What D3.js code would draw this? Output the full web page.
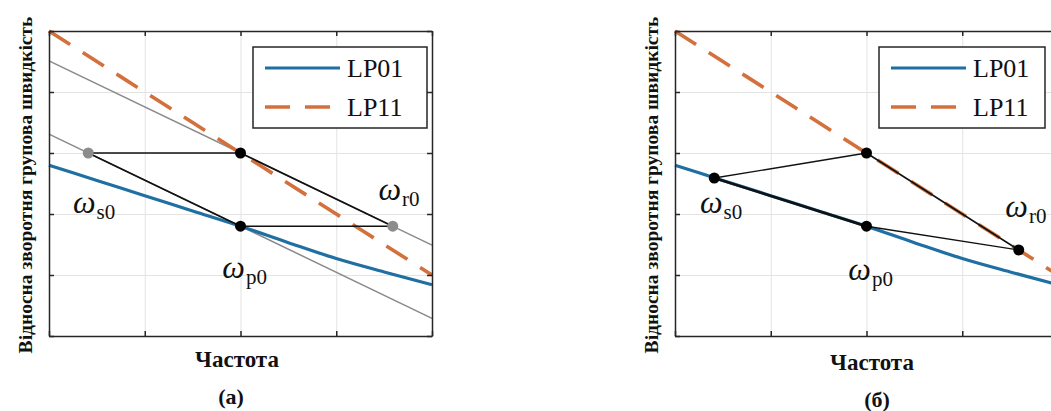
<!DOCTYPE html>
<html><head><meta charset="utf-8">
<script src="https://cdn.jsdelivr.net/npm/d3@7"></script>
<style>body{margin:0;background:#fff} text{font-family:"Liberation Serif","Times New Roman",serif}</style>
</head><body>
<svg width="1051" height="411"></svg>
<script>
// curves shared by both panels
var freq = [0, 0.5, 1, 1.5, 2, 2.5, 3, 3.5, 4];
var lp01 = [2.80, 2.55, 2.30, 2.05, 1.80, 1.53, 1.27, 1.05, 0.84];
var lp11 = [5.00, 4.50, 4.00, 3.50, 3.00, 2.50, 2.00, 1.50, 1.00];
var seriesNames = ["LP01", "LP11"];
var xTicks = [0, 1, 2, 3, 4];
var yTicks = [0, 1, 2, 3, 4, 5];

// panel (a): points s0, top, p0, r0
var ptsA = [{x: 0.41, y: 3.00, c: "#8c8c8c"}, {x: 2, y: 3.00, c: "#000"},
            {x: 2, y: 1.80, c: "#000"}, {x: 3.59, y: 1.80, c: "#8c8c8c"}];
var segsA = [[0, 1, 1.6], [0, 2, 1.6], [2, 3, 1.6], [1, 3, 1.6]];
var guidesA = [[[0, 3.31], [4, 0.29]], [[0, 4.51], [4, 1.49]]];
// panel (б)
var ptsB = [{x: 0.41, y: 2.59, c: "#000"}, {x: 2, y: 3.00, c: "#000"},
            {x: 2, y: 1.80, c: "#000"}, {x: 3.59, y: 1.41, c: "#000"}];
var segsB = [[0, 1, 1.4], [0, 2, 2.6], [2, 3, 1.4], [1, 3, 1.6]];
var guidesB = [];

var subNames = ["s0", "p0", "r0"];
var labelsA = [[0.25, 2.02], [1.81, 0.95], [3.44, 2.23]];
var labelsB = [[0.26, 2.02], [1.81, 0.92], [3.45, 1.95]];

var yTitle = "Відносна зворотня групова швидкість";
var xTitle = "Частота";

var svg = d3.select("svg");
var W = 383, H = 305, TOP = 31;
var blue = "#1f6fa3", orange = "#d3703c";

function panel(left, pts, segs, guides, labels, tag, legW, xt, tagX, yt) {
    var x = d3.scaleLinear().domain([0, 4]).range([0, W]);
    var y = d3.scaleLinear().domain([0, 5]).range([H, 0]);
    var g = svg.append("g").attr("transform", "translate(" + left + "," + TOP + ")");

    // grid
    g.append("g").attr("transform", "translate(0," + H + ")")
     .call(d3.axisBottom(x).tickValues(xTicks).tickSize(-H).tickFormat(""))
     .call(s => s.select(".domain").remove())
     .selectAll("line").attr("stroke", "#e3e3e3");
    g.append("g")
     .call(d3.axisLeft(y).tickValues(yTicks).tickSize(-W).tickFormat(""))
     .call(s => s.select(".domain").remove())
     .selectAll("line").attr("stroke", "#e3e3e3");

    var line = d3.line().x(d => x(d[0])).y(d => y(d[1]));

    guides.forEach(function (gd) {
        g.append("path").attr("d", line(gd)).attr("fill", "none")
         .attr("stroke", "#8a8a8a").attr("stroke-width", 1.5);
    });

    var curve = d3.line().x((d, i) => x(freq[i])).y(d => y(d)).curve(d3.curveMonotoneX);
    g.append("path").attr("d", curve(lp01)).attr("fill", "none")
     .attr("stroke", blue).attr("stroke-width", 3.2);
    g.append("path").attr("d", curve(lp11)).attr("fill", "none")
     .attr("stroke", orange).attr("stroke-width", 3.6).attr("stroke-dasharray", "25,15");

    segs.forEach(function (s) {
        g.append("line")
         .attr("x1", x(pts[s[0]].x)).attr("y1", y(pts[s[0]].y))
         .attr("x2", x(pts[s[1]].x)).attr("y2", y(pts[s[1]].y))
         .attr("stroke", "#111").attr("stroke-width", s[2]);
    });

    g.selectAll("circle.pt").data(pts).enter().append("circle")
     .attr("cx", d => x(d.x)).attr("cy", d => y(d.y)).attr("r", 5.5)
     .attr("fill", d => d.c);

    labels.forEach(function (l, i) {
        var t = g.append("text").attr("x", x(l[0])).attr("y", y(l[1])).attr("fill", "#111");
        t.append("tspan").attr("font-style", "italic").attr("font-size", 32).text("ω");
        t.append("tspan").attr("font-size", 21).attr("dx", 1).attr("dy", 6).text(subNames[i]);
    });

    // box axes with inside ticks
    var ax = [
        [d3.axisBottom(x), "translate(0," + H + ")"],
        [d3.axisTop(x), "translate(0,0)"],
    ];
    ax.forEach(function (a) {
        g.append("g").attr("transform", a[1])
         .call(a[0].tickValues(xTicks).tickSize(-5).tickSizeOuter(0).tickFormat(""))
         .call(s => s.selectAll("path,line").attr("stroke", "#262626").attr("stroke-width", 1.5));
    });
    g.append("g")
     .call(d3.axisLeft(y).tickValues(yTicks).tickSize(-5).tickSizeOuter(0).tickFormat(""))
     .call(s => s.selectAll("path,line").attr("stroke", "#262626").attr("stroke-width", 1.5));
    g.append("g").attr("transform", "translate(" + W + ",0)")
     .call(d3.axisRight(y).tickValues(yTicks).tickSize(-5).tickSizeOuter(0).tickFormat(""))
     .call(s => s.selectAll("path,line").attr("stroke", "#262626").attr("stroke-width", 1.5));

    // legend
    var lg = g.append("g").attr("transform", "translate(204,16)");
    lg.append("rect").attr("width", legW).attr("height", 81)
      .attr("fill", "#fff").attr("stroke", "#262626").attr("stroke-width", 1.5);
    seriesNames.forEach(function (n, i) {
        var ly = 21 + i * 39;
        lg.append("line").attr("x1", 12).attr("x2", 87).attr("y1", ly).attr("y2", ly)
          .attr("stroke", i ? orange : blue).attr("stroke-width", i ? 3.6 : 3.2)
          .attr("stroke-dasharray", i ? "25,15" : null);
        lg.append("text").attr("x", 94).attr("y", ly + 9)
          .attr("font-size", 26).attr("fill", "#111").text(n);
    });

    // titles
    svg.append("text").attr("x", xt).attr("y", yt)
       .attr("text-anchor", "middle").attr("font-weight", "bold")
       .attr("font-size", 23).attr("fill", "#111").text(xTitle);
    svg.append("text").attr("x", tagX).attr("y", yt + 37)
       .attr("text-anchor", "middle").attr("font-weight", "bold")
       .attr("font-size", 22).attr("fill", "#111").text(tag);
    var yl = svg.append("text")
       .attr("transform", "translate(" + (left - 17) + ",185) rotate(-90)")
       .attr("text-anchor", "middle").attr("font-weight", "bold")
       .attr("font-size", 19).attr("fill", "#111").text(yTitle);
    // fit the rotated title to the height it takes in the picture
    var len = yl.node().getComputedTextLength();
    yl.attr("font-size", 19 * 337 / len);
}

panel(49, ptsA, segsA, guidesA, labelsA, "(a)", 174, 237, 231, 367);
panel(675, ptsB, segsB, guidesB, labelsB, "(б)", 166, 872, 877, 370);
</script>
</body></html>
